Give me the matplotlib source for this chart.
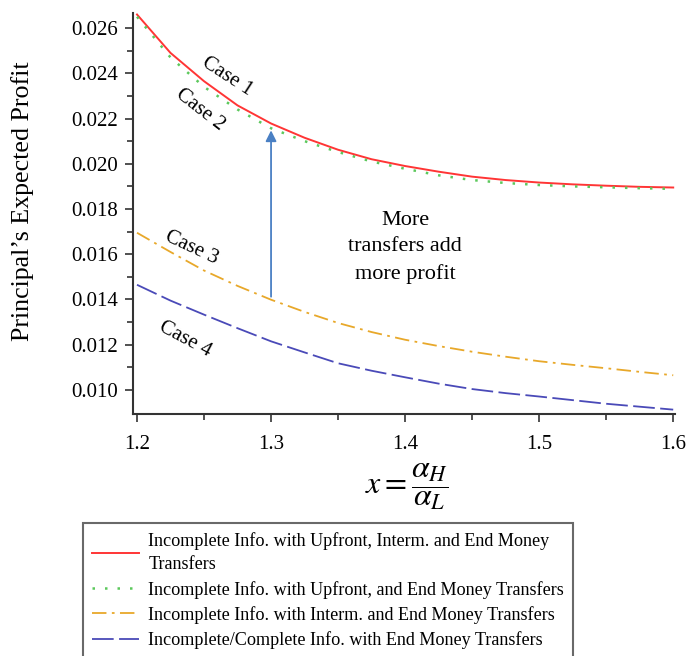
import matplotlib
matplotlib.use("Agg")
import matplotlib.pyplot as plt

plt.rcParams['font.family'] = ['Liberation Serif', 'DejaVu Serif']
plt.rcParams['mathtext.fontset'] = 'stix'

# Data
x1 = [1.2, 1.225, 1.25, 1.275, 1.3, 1.325, 1.35, 1.375, 1.4, 1.425, 1.45, 1.475, 1.5, 1.525, 1.55, 1.575, 1.6]
case1 = [0.0266, 0.0249, 0.02365, 0.02258, 0.02178, 0.02115, 0.02062, 0.0202, 0.0199, 0.01965, 0.01943, 0.01928,
         0.01917, 0.01909, 0.01903, 0.01898, 0.01895]
case2 = [0.0265, 0.0247, 0.0234, 0.0224, 0.02157, 0.021, 0.02052, 0.0201, 0.01978, 0.01949, 0.01928, 0.01915,
         0.01906, 0.019, 0.01896, 0.01892, 0.01889]
case3 = [0.01695, 0.0161, 0.01528, 0.0146, 0.01399, 0.01345, 0.01296, 0.01256, 0.01222, 0.01194, 0.01169, 0.01147,
         0.01127, 0.01111, 0.01096, 0.0108, 0.01065]
case4 = [0.01465, 0.01395, 0.01333, 0.01273, 0.01215, 0.01166, 0.01118, 0.01085, 0.01056, 0.01028, 0.01004, 0.00986,
         0.00971, 0.00955, 0.00939, 0.00926, 0.00913]

labels = [
    "Incomplete Info. with Upfront, Interm. and End Money\nTransfers",
    "Incomplete Info. with Upfront, and End Money Transfers",
    "Incomplete Info. with Interm. and End Money Transfers",
    "Incomplete/Complete Info. with End Money Transfers",
]
case_names = ["Case 1", "Case 2", "Case 3", "Case 4"]
xticks = [1.2, 1.3, 1.4, 1.5, 1.6]
yticks = [0.010, 0.012, 0.014, 0.016, 0.018, 0.020, 0.022, 0.024, 0.026]

fig = plt.figure(figsize=(6.89, 6.56), dpi=100)
ax = fig.add_axes([0.193, 0.369, 0.787, 0.611])

ax.plot(x1, case1, color='#ff3535', lw=1.4, ls='-', label=labels[0])
ax.plot(x1, case2, color='#5cc85c', lw=1.8, ls=(0, (1, 4)), label=labels[1])
ax.plot(x1, case3, color='#e8a82a', lw=1.3, ls=(0, (8, 3, 1.5, 3)), label=labels[2])
ax.plot(x1, case4, color='#4a4ab8', lw=1.3, ls=(0, (12, 3)), label=labels[3])

ax.set_xlim(1.197, 1.6015)
ax.set_ylim(0.00894, 0.02666)
ax.set_xticks(xticks)
ax.set_xticklabels([f"{v:.1f}" for v in xticks])
ax.set_yticks(yticks)
ax.set_yticklabels([f"{v:.3f}" for v in yticks])
ax.set_xticks([1.25, 1.35, 1.45, 1.55], minor=True)
ax.set_yticks([0.011, 0.013, 0.015, 0.017, 0.019, 0.021, 0.023, 0.025], minor=True)
for s in ['top', 'right']:
    ax.spines[s].set_visible(False)
for s in ['left', 'bottom']:
    ax.spines[s].set_color('#333333')
    ax.spines[s].set_linewidth(1.5)
ax.tick_params(which='major', length=6, width=1.2, labelsize=15, colors='#333333', labelcolor='black')
ax.tick_params(axis='x', which='major', pad=9)
ax.tick_params(axis='y', which='major', pad=5)
ax.tick_params(which='minor', length=4, width=1.2, colors='#333333')

ax.set_ylabel("Principal\u2019s Expected Profit", fontsize=18.7)
ax.yaxis.set_label_coords(-0.183, 0.531)
ax.set_xlabel(r"$x=\dfrac{\alpha_H}{\alpha_L}$", fontsize=23)
ax.xaxis.set_label_coords(0.505, -0.118)
ax.xaxis.label.set_va('top')

# Case labels
ax.text(1.267, 0.02384, case_names[0], rotation=-33, fontsize=15, ha='center', va='center')
ax.text(1.247, 0.02238, case_names[1], rotation=-38, fontsize=15, ha='center', va='center')
ax.text(1.241, 0.01629, case_names[2], rotation=-25, fontsize=15, ha='center', va='center')
ax.text(1.236, 0.01222, case_names[3], rotation=-28, fontsize=15, ha='center', va='center')

ax.text(1.4, 0.0163, "More\ntransfers add\nmore profit", fontsize=16, ha='center', va='center',
        linespacing=1.5)
ax.annotate("", xy=(1.3, 0.0216), xytext=(1.3, 0.0140),
            arrowprops=dict(arrowstyle='-|>', color='#4a80c4', lw=1.3, mutation_scale=16))

leg = fig.legend(loc='upper left', bbox_to_anchor=(83 / 689, 1 - 523 / 656), fontsize=13.1,
                 frameon=True, fancybox=False, edgecolor='#444444', handlelength=2.6,
                 borderpad=0.5, labelspacing=0.4, handletextpad=0.5, borderaxespad=0)
leg.get_frame().set_linewidth(1.5)
for t in leg.get_texts():
    t.set_linespacing(1.5)

fig.savefig("out.png", dpi=100)
